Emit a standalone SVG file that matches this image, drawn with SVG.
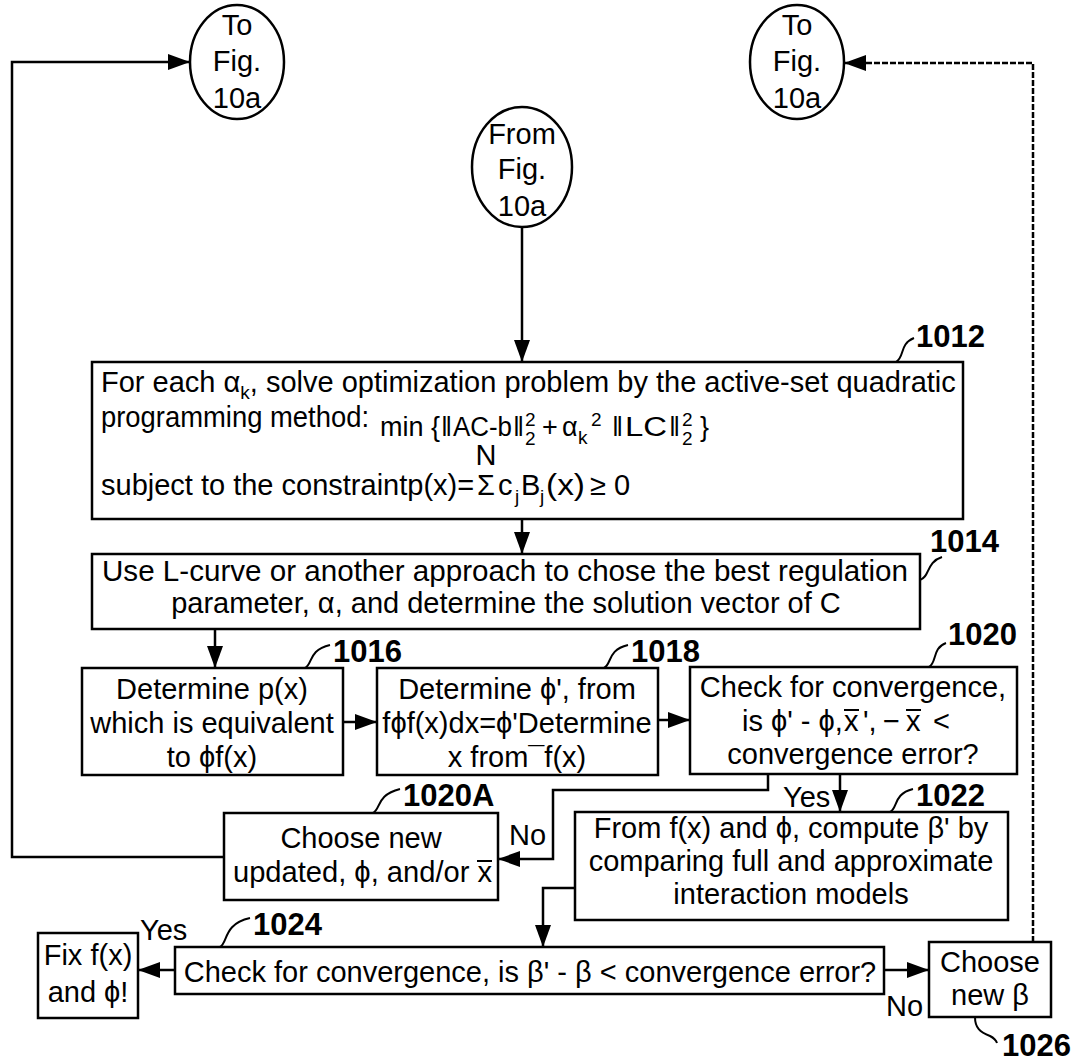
<svg xmlns="http://www.w3.org/2000/svg" width="1082" height="1061" viewBox="0 0 1082 1061">
<style>
.box{fill:#fff;stroke:#000;stroke-width:2.5}
.t{font-family:"Liberation Sans",Arial,sans-serif;font-size:29px;fill:#000}
.c{text-anchor:middle}
.sm{font-size:19px}
.f{font-size:27px}
.lbl{font-family:"Liberation Sans",Arial,sans-serif;font-size:31px;font-weight:bold;fill:#000}
.ln{fill:none;stroke:#000;stroke-width:2.5}
.bar{fill:none;stroke:#000;stroke-width:2}
.dash{fill:none;stroke:#000;stroke-width:2.5;stroke-dasharray:6,2}
.sq{fill:none;stroke:#000;stroke-width:2}
</style>
<defs>
<marker id="ahb" markerWidth="22" markerHeight="16" refX="21" refY="8" orient="auto" markerUnits="userSpaceOnUse" viewBox="0 0 22 16">
<path d="M0,0 L22,8 L0,16 z" fill="#000"/>
</marker>
</defs>

<g id="connectors">
<polyline class="ln" points="224,857 12,857 12,62 189,62" marker-end="url(#ahb)"/>
<polyline class="dash" points="1033,942 1033,63 845,63" marker-end="url(#ahb)"/>
<line class="ln" x1="522" y1="227" x2="522" y2="361" marker-end="url(#ahb)"/>
<line class="ln" x1="522" y1="519" x2="522" y2="553" marker-end="url(#ahb)"/>
<line class="ln" x1="215" y1="629" x2="215" y2="667" marker-end="url(#ahb)"/>
<line class="ln" x1="343" y1="722" x2="376" y2="722" marker-end="url(#ahb)"/>
<line class="ln" x1="658" y1="720" x2="689" y2="720" marker-end="url(#ahb)"/>
<polyline class="ln" points="768,774 768,790 553,790 553,859 499,859" marker-end="url(#ahb)"/>
<line class="ln" x1="840" y1="774" x2="840" y2="811" marker-end="url(#ahb)"/>
<polyline class="ln" points="575,888 543,888 543,946" marker-end="url(#ahb)"/>
<line class="ln" x1="175" y1="970" x2="139" y2="970" marker-end="url(#ahb)"/>
<line class="ln" x1="884" y1="970" x2="928" y2="970" marker-end="url(#ahb)"/>
</g>

<g id="to-fig-10a-left">
<ellipse class="box" cx="237" cy="62" rx="47" ry="57"/>
<text class="t c" x="237" y="35" font-size="28">To</text>
<text class="t c" x="237" y="71" font-size="28">Fig.</text>
<text class="t c" x="237" y="108" font-size="28">10a</text>
</g>

<g id="to-fig-10a-right">
<ellipse class="box" cx="797" cy="62" rx="47" ry="57"/>
<text class="t c" x="797" y="35" font-size="28">To</text>
<text class="t c" x="797" y="71" font-size="28">Fig.</text>
<text class="t c" x="797" y="108" font-size="28">10a</text>
</g>

<g id="from-fig-10a">
<ellipse class="box" cx="522" cy="167" rx="50" ry="60"/>
<text class="t c" x="522" y="144" font-size="28">From</text>
<text class="t c" x="522" y="179" font-size="28">Fig.</text>
<text class="t c" x="522" y="216" font-size="28">10a</text>
</g>

<g id="n1012">
<rect class="box" x="92" y="362" width="871" height="157"/>
<text class="t" x="101" y="392">For each α<tspan class="sm" dy="7">k</tspan><tspan dy="-7">, solve optimization problem by the active-set quadratic</tspan></text>
<text class="t" x="101" y="427" font-size="28" textLength="268" lengthAdjust="spacingAndGlyphs">programming method:</text>
<text class="t f" x="380" y="436">min</text>
<text class="t f" x="431" y="436">{</text>
<text class="t f" x="441" y="436">‖</text>
<text class="t f" x="453" y="436" textLength="59" lengthAdjust="spacingAndGlyphs">AC-b</text>
<text class="t f" x="513" y="436">‖</text>
<text class="t sm" x="525" y="426">2</text>
<text class="t sm" x="525" y="445">2</text>
<text class="t f" x="542" y="436">+</text>
<text class="t f" x="562" y="436">α</text>
<text class="t sm" x="578" y="444">k</text>
<text class="t sm" x="591" y="426">2</text>
<text class="t f" x="612" y="436">‖</text>
<text class="t f" x="625" y="436" textLength="42" lengthAdjust="spacingAndGlyphs">LC</text>
<text class="t f" x="669" y="436">‖</text>
<text class="t sm" x="682" y="426">2</text>
<text class="t sm" x="682" y="445">2</text>
<text class="t f" x="700" y="436">}</text>
<text class="t" x="101" y="495">subject to the constraintp(x)=</text>
<text class="t" x="477" y="495">Σ</text>
<text class="t c" x="486" y="465" font-size="17">N</text>
<text class="t" x="498" y="495">c</text>
<text class="t sm" x="515" y="503">j</text>
<text class="t" x="521" y="495">B</text>
<text class="t sm" x="540" y="503">j</text>
<text class="t" x="546" y="495" textLength="39" lengthAdjust="spacingAndGlyphs">(x)</text>
<text class="t" x="590" y="495">≥</text>
<text class="t" x="614" y="495">0</text>
<path class="sq" d="M896,362 C905,357 899,344 914,338"/>
<text class="lbl" x="916" y="347">1012</text>
</g>

<g id="n1014">
<rect class="box" x="92" y="554" width="828" height="75"/>
<text class="t c" x="505" y="581" textLength="806" lengthAdjust="spacingAndGlyphs">Use L-curve or another approach to chose the best regulation</text>
<text class="t c" x="506" y="613">parameter, α, and determine the solution vector of C</text>
<path class="sq" d="M920,580 C930,577 926,562 942,557"/>
<text class="lbl" x="930" y="552">1014</text>
</g>

<g id="n1016">
<rect class="box" x="82" y="668" width="261" height="107"/>
<text class="t c" x="212" y="699">Determine p(x)</text>
<text class="t c" x="212" y="733">which is equivalent</text>
<text class="t c" x="212" y="767">to ϕf(x)</text>
<path class="sq" d="M305,668 C313,664 308,650 330,645"/>
<text class="lbl" x="333" y="662">1016</text>
</g>

<g id="n1018">
<rect class="box" x="377" y="668" width="281" height="107"/>
<text class="t c" x="517" y="699">Determine ϕ', from</text>
<text class="t c" x="517" y="733">fϕf(x)dx=ϕ'Determine</text>
<text class="t c" x="517" y="767">x from<tspan>¯</tspan>f(x)</text>
<path class="sq" d="M604,668 C612,664 607,650 628,645"/>
<text class="lbl" x="631" y="662">1018</text>
</g>

<g id="n1020">
<rect class="box" x="690" y="667" width="327" height="107"/>
<text class="t c" x="853" y="697">Check for convergence,</text>
<text class="t" x="742" y="731" font-size="27">is ϕ' - ϕ,</text>
<text class="t" x="844" y="731">x</text>
<text class="t" x="863" y="731">',</text>
<text class="t" x="883" y="731">−</text>
<text class="t" x="906" y="731">x</text>
<text class="t" x="933" y="731">&lt;</text>
<line class="bar" x1="844" y1="710" x2="859" y2="710"/>
<line class="bar" x1="906" y1="710" x2="921" y2="710"/>
<text class="t c" x="853" y="764">convergence error?</text>
<path class="sq" d="M929,667 C937,663 932,648 946,643"/>
<text class="lbl" x="948" y="645">1020</text>
</g>

<g id="n1020A">
<rect class="box" x="224" y="813" width="274" height="87"/>
<text class="t c" x="361" y="848">Choose new</text>
<text class="t" x="233" y="882" textLength="259" lengthAdjust="spacingAndGlyphs">updated, ϕ, and/or x</text>
<line class="bar" x1="477" y1="861" x2="492" y2="861"/>
<path class="sq" d="M373,813 C381,809 376,795 400,789"/>
<text class="lbl" x="403" y="806">1020A</text>
<text class="t" x="509" y="845">No</text>
</g>

<g id="n1022">
<rect class="box" x="575" y="812" width="433" height="108"/>
<text class="t c" x="791" y="838">From f(x) and ϕ, compute β' by</text>
<text class="t c" x="791" y="871">comparing full and approximate</text>
<text class="t c" x="791" y="904">interaction models</text>
<text class="t" x="783" y="807">Yes</text>
<path class="sq" d="M890,812 C898,808 893,794 913,789"/>
<text class="lbl" x="916" y="806">1022</text>
</g>

<g id="n1024">
<rect class="box" x="175" y="947" width="709" height="47"/>
<text class="t c" x="530" y="982">Check for convergence, is β' - β &lt; convergence error?</text>
<path class="sq" d="M220,947 C228,943 223,924 250,918"/>
<text class="lbl" x="253" y="935">1024</text>
<text class="t" x="140" y="940">Yes</text>
</g>

<g id="n-fix">
<rect class="box" x="38" y="933" width="100" height="85"/>
<text class="t c" x="88" y="965">Fix f(x)</text>
<text class="t c" x="88" y="1002">and ϕ!</text>
</g>

<g id="n1026">
<rect class="box" x="929" y="942" width="122" height="75"/>
<text class="t c" x="990" y="972">Choose</text>
<text class="t c" x="990" y="1005">new β</text>
<text class="t" x="886" y="1016">No</text>
<path class="sq" d="M975,1017 C975,1028 980,1032 990,1036 C994,1038 996,1040 997,1043"/>
<text class="lbl" x="1002" y="1056">1026</text>
</g>
</svg>
